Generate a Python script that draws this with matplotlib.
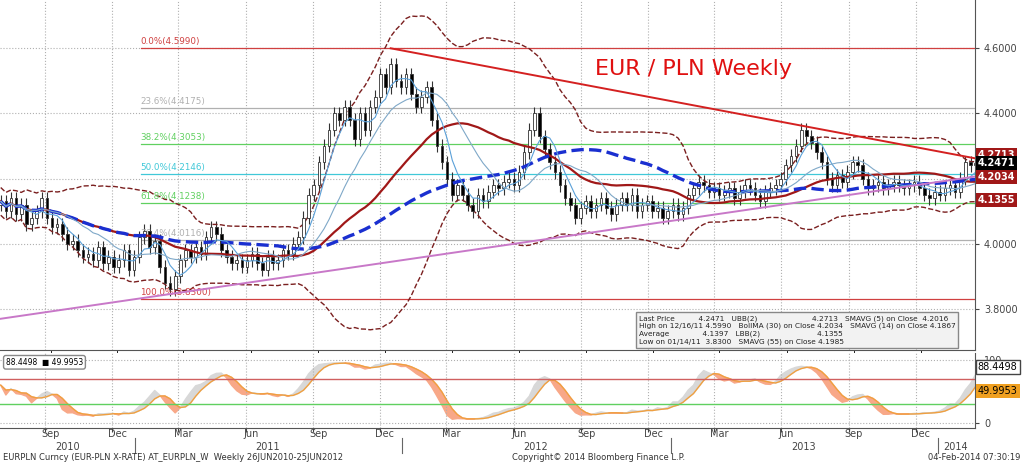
import numpy as np
import pandas as pd
import matplotlib.pyplot as plt
import matplotlib.dates as mdates
from matplotlib.patches import Rectangle

# weekly closes, EUR/PLN
closes = [
    4.13, 4.10, 4.14, 4.09, 4.12, 4.06, 4.08,
    4.10, 4.14, 4.08, 4.05, 4.06, 4.03, 4.00, 4.01, 3.98, 3.96,
    3.97, 3.95, 3.99, 3.94, 3.96, 3.93, 3.95, 3.98, 3.92, 3.96,
    4.02, 4.04, 3.99, 4.01, 3.93, 3.88, 3.86, 3.90, 3.95, 3.98,
    3.96, 3.99, 3.97, 4.02, 4.05, 4.03, 3.98, 3.96, 3.94, 3.95,
    3.93, 3.95, 3.97, 3.94, 3.92, 3.96, 3.94, 3.95, 3.98, 3.97,
    4.00, 4.02, 4.08, 4.15, 4.18, 4.25, 4.30, 4.35, 4.40, 4.38,
    4.42, 4.38, 4.32, 4.40, 4.35, 4.42, 4.45, 4.52, 4.48, 4.55,
    4.50, 4.48, 4.52, 4.46, 4.42, 4.45, 4.48, 4.38, 4.30, 4.25,
    4.20, 4.15, 4.18, 4.15, 4.12, 4.10, 4.15, 4.13, 4.16, 4.18,
    4.17, 4.19, 4.20, 4.18, 4.22, 4.28, 4.35, 4.40, 4.33, 4.29,
    4.25, 4.22, 4.18, 4.14, 4.12, 4.08, 4.11, 4.13, 4.10, 4.12,
    4.14, 4.11, 4.09, 4.12, 4.14, 4.12, 4.15, 4.10, 4.12, 4.13,
    4.10, 4.11, 4.08, 4.10, 4.12, 4.09, 4.11, 4.15, 4.17, 4.19,
    4.18, 4.16, 4.17, 4.15, 4.16, 4.17, 4.14, 4.16, 4.18, 4.17,
    4.15, 4.13, 4.16, 4.17, 4.18, 4.20, 4.24, 4.27, 4.30, 4.35,
    4.33, 4.31, 4.28, 4.25, 4.20, 4.18, 4.21, 4.19, 4.22, 4.25,
    4.24, 4.20, 4.17, 4.18, 4.19, 4.17, 4.18, 4.19, 4.18, 4.17,
    4.18, 4.19, 4.17, 4.15, 4.14, 4.16, 4.15, 4.17, 4.18, 4.16,
    4.20, 4.25, 4.24, 4.2471,
]
first_open = 4.12

fib_pct = ["0.0%", "23.6%", "38.2%", "50.0%", "61.8%", "76.4%", "100.0%"]
fib_levels = [4.5990, 4.4175, 4.3053, 4.2146, 4.1238, 4.0116, 3.8300]
fib_colors = ["#d04040", "#b0b0b0", "#60d060", "#40c8d8", "#60d060", "#b0b0b0", "#d04040"]

res_dates = ["2011-12-16", "2014-02-20"]
res_values = [4.599, 4.262]
sup_dates = ["2010-07-01", "2014-02-20"]
sup_values = [3.77, 4.206]

right_labels = [("4.2713", "#a01818", "white"), ("4.2471", "black", "white"),
                ("4.2034", "#a01818", "white"), ("4.1355", "#a01818", "white")]
right_label_y = [4.2713, 4.2471, 4.2034, 4.1355]

dates = pd.date_range("2010-07-02", periods=len(closes), freq="W-FRI")
c = pd.Series(closes, index=dates)
o = c.shift(1).fillna(first_open)

sma5 = c.rolling(5, min_periods=1).mean()
sma14 = c.rolling(14, min_periods=1).mean()
sma55 = c.rolling(55, min_periods=1).mean()
mid = c.rolling(30, min_periods=1).mean()
sd = c.rolling(30, min_periods=2).std().bfill()
ubb = mid + 2 * sd
lbb = mid - 2 * sd

hi = np.maximum(o, c) + 0.02
lo = np.minimum(o, c) - 0.02
lo14 = lo.rolling(20, min_periods=1).min()
hi14 = hi.rolling(20, min_periods=1).max()
k = 100 * (c - lo14) / (hi14 - lo14)
k = k.rolling(4, min_periods=1).mean()
d = k.rolling(4, min_periods=1).mean()

fig = plt.figure(figsize=(10.23, 4.62), dpi=100)
ax = fig.add_axes([0.0, 0.242, 0.953, 0.758])
ax2 = fig.add_axes([0.0, 0.074, 0.953, 0.163], sharex=ax)

for a in (ax, ax2):
    a.grid(True, color="#b0b0b0", linestyle=":", linewidth=0.8)
    a.yaxis.tick_right()
    for s in ["left", "top"]:
        a.spines[s].set_visible(False)
    a.spines["right"].set_color("#555555")
    a.spines["bottom"].set_color("#555555")
    a.tick_params(labelsize=7, colors="#444444", length=3)

# fibonacci levels
fib_start = pd.Timestamp("2011-01-08")
for p, v, col in zip(fib_pct, fib_levels, fib_colors):
    ax.axhline(v, xmin=0.145, color=col, linewidth=0.9)
    ax.text(fib_start, v + 0.006, f"{p}({v:.4f})", color=col, fontsize=6.3, va="bottom")

# candles
w = 3.6
for t, op, cl in zip(dates, o, c):
    top, bot = max(op, cl), min(op, cl)
    ax.vlines(t, bot - 0.02, top + 0.02, color="#333333", linewidth=0.8)
    ax.add_patch(Rectangle((mdates.date2num(t) - w / 2, bot), w, max(top - bot, 0.003),
                           facecolor="black" if cl < op else "white",
                           edgecolor="#333333", linewidth=0.6, zorder=3))

ax.plot(dates, ubb, color="#7a1f1f", linestyle="--", linewidth=1.0)
ax.plot(dates, lbb, color="#7a1f1f", linestyle="--", linewidth=1.0)
ax.plot(dates, mid, color="#a01818", linewidth=1.6, zorder=4)
ax.plot(dates, sma55, color="#1a2fd0", linestyle="--", linewidth=2.4, zorder=4)
ax.plot(dates, sma5, color="#5aa0d8", linewidth=0.8, zorder=4)
ax.plot(dates, sma14, color="#7fa8c8", linewidth=0.8, zorder=4)

ax.plot(pd.to_datetime(res_dates), res_values, color="#d42020", linewidth=1.4, zorder=5)
ax.plot(pd.to_datetime(sup_dates), sup_values, color="#c878c8", linewidth=1.4, zorder=5)

ax.text(0.61, 0.785, "EUR / PLN Weekly", transform=ax.transAxes, color="#e01010", fontsize=16)

ax.set_ylim(3.674, 4.747)
ax.set_yticks([3.8, 4.0, 4.2, 4.4, 4.6])
ax.set_yticklabels(["3.8000", "4.0000", "4.2000", "4.4000", "4.6000"])
for (txt, bg, fg), yv in zip(right_labels, right_label_y):
    ax.text(1.003, yv, txt, transform=ax.get_yaxis_transform(), fontsize=7, color=fg,
            va="center", fontweight="bold",
            bbox=dict(boxstyle="square,pad=0.2", facecolor=bg, edgecolor="none"))

legend = ("Last Price          4.2471   UBB(2)                       4.2713   SMAVG (5) on Close  4.2016\n"
          "High on 12/16/11 4.5990   BollMA (30) on Close 4.2034   SMAVG (14) on Close 4.1867\n"
          "Average              4.1397   LBB(2)                        4.1355\n"
          "Low on 01/14/11  3.8300   SMAVG (55) on Close 4.1985")
ax.text(0.655, 0.015, legend, transform=ax.transAxes, fontsize=5.3, color="#222222",
        va="bottom", linespacing=1.25,
        bbox=dict(boxstyle="square,pad=0.4", facecolor="#f2f2f2", edgecolor="#888888"))

# lower panel: stochastic
ax2.fill_between(dates, k, d, where=k >= d, color="#d8d8d8", interpolate=True)
ax2.fill_between(dates, k, d, where=k < d, color="#f8a888", interpolate=True)
ax2.plot(dates, d, color="#f0a040", linewidth=1.0)
ax2.axhline(70, color="#d06060", linewidth=1.0)
ax2.axhline(30, color="#60d060", linewidth=1.0)
ax2.set_ylim(-8, 112)
ax2.set_yticks([0, 100])
ax2.text(1.003, 88.45, "88.4498", transform=ax2.get_yaxis_transform(), fontsize=7, va="center",
         bbox=dict(boxstyle="square,pad=0.2", facecolor="white", edgecolor="#444444"))
ax2.text(1.003, 49.995, "49.9953", transform=ax2.get_yaxis_transform(), fontsize=7, va="center",
         bbox=dict(boxstyle="square,pad=0.2", facecolor="#f0a020", edgecolor="none"))
ax2.text(0.006, 0.93, "88.4498  \u25a0 49.9953", transform=ax2.transAxes, fontsize=5.5, va="top",
         bbox=dict(boxstyle="round,pad=0.3", facecolor="white", edgecolor="#888888"))

# x axis: quarter gridlines at month start, labels centred in the month
ax.tick_params(axis="x", labelbottom=False, length=0)
ax2.xaxis.set_major_locator(mdates.MonthLocator(bymonth=[3, 6, 9, 12]))
ax2.xaxis.set_major_formatter(mdates.DateFormatter(""))
ax2.xaxis.set_minor_locator(mdates.MonthLocator(bymonth=[3, 6, 9, 12], bymonthday=8))
ax2.xaxis.set_minor_formatter(mdates.DateFormatter("%b"))
ax2.tick_params(axis="x", which="minor", length=0, labelsize=7, colors="#444444", pad=1)
ax2.set_xlim(pd.Timestamp("2010-07-01"), pd.Timestamp("2014-02-20"))
xt = ax2.get_xaxis_transform()
year_pos = ["2010-10-01", "2011-07-01", "2012-07-01", "2013-07-01", "2014-01-25"]
for yr, pos in zip([2010, 2011, 2012, 2013, 2014], year_pos):
    ax2.text(pd.Timestamp(pos), -0.25, str(yr), transform=xt, fontsize=7, ha="center",
             va="center", color="#444444")
for yr in [2011, 2012, 2013, 2014]:
    ax2.plot([pd.Timestamp(f"{yr}-01-01")] * 2, [-0.33, -0.14], transform=xt,
             color="#666666", linewidth=0.8, clip_on=False)

fig.text(0.003, 0.004, "EURPLN Curncy (EUR-PLN X-RATE) AT_EURPLN_W  Weekly 26JUN2010-25JUN2012",
         fontsize=6, color="#333333")
fig.text(0.5, 0.004, "Copyright\u00a9 2014 Bloomberg Finance L.P.", fontsize=6, color="#333333")
fig.text(0.997, 0.004, "04-Feb-2014 07:30:19", fontsize=6, color="#333333", ha="right")

fig.savefig("out.png", dpi=100)
